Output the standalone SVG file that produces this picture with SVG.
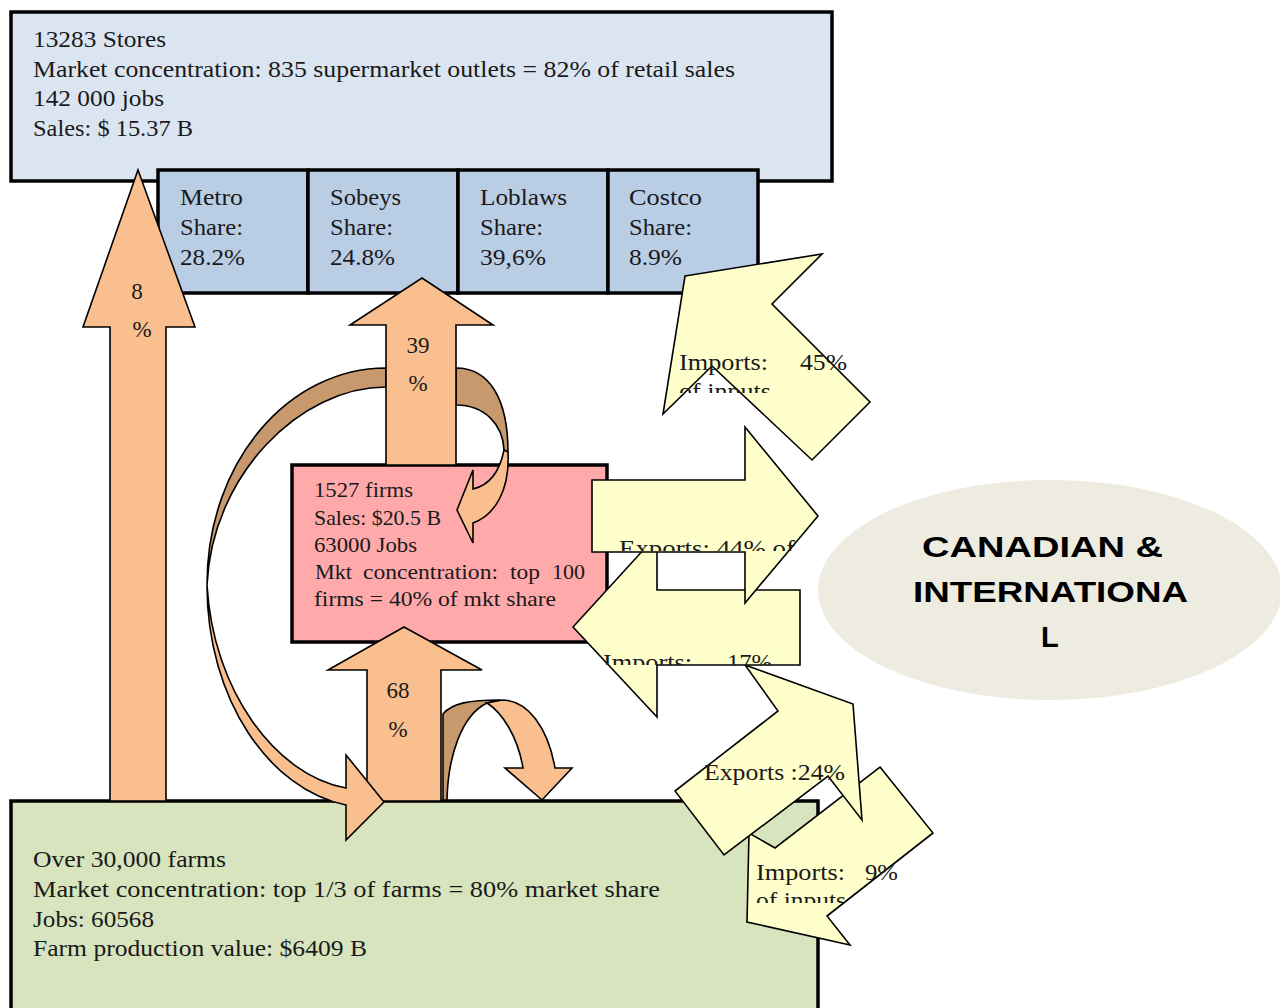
<svg xmlns="http://www.w3.org/2000/svg" width="1280" height="1008" viewBox="0 0 1280 1008">
<style>
.box{stroke:#000;stroke-width:3.5}
.t{font-family:"Liberation Serif","Times New Roman",serif;font-size:23px;fill:#1a1a1a}
.ts{font-family:"Liberation Serif","Times New Roman",serif;font-size:21px;fill:#1a1a1a}
.peach{fill:#f9bf8f;stroke:#000;stroke-width:1.6;stroke-linejoin:miter}
.dark{fill:#c9996e;stroke:#000;stroke-width:1.6}
.yel{fill:#ffffcc;stroke:#000;stroke-width:1.6;stroke-linejoin:miter}
.big{font-family:"Liberation Sans",Arial,sans-serif;font-weight:bold;font-size:29px;fill:#000}
</style>
<defs>
<clipPath id="c45"><rect x="600" y="330" width="300" height="63"/></clipPath>
<clipPath id="c44"><rect x="590" y="520" width="230" height="31"/></clipPath>
<clipPath id="c17"><rect x="570" y="630" width="240" height="35"/></clipPath>
<clipPath id="c9"><rect x="740" y="850" width="200" height="53"/></clipPath>
</defs>
<rect width="1280" height="1008" fill="#fff"/>

<g id="retail">
<rect class="box" x="11" y="12" width="821" height="169" fill="#dbe5f1"/>
<text class="t" x="33" y="47" textLength="133" lengthAdjust="spacingAndGlyphs">13283 Stores</text>
<text class="t" x="33" y="77" textLength="702" lengthAdjust="spacingAndGlyphs">Market concentration: 835 supermarket outlets = 82% of retail sales</text>
<text class="t" x="33" y="106" textLength="131" lengthAdjust="spacingAndGlyphs">142 000 jobs</text>
<text class="t" x="33" y="136" textLength="160" lengthAdjust="spacingAndGlyphs">Sales: $ 15.37 B</text>
</g>
<g id="metro">
<rect class="box" x="158" y="170" width="150" height="123" fill="#b9cde5"/>
<text class="t" x="180" y="205" textLength="63" lengthAdjust="spacingAndGlyphs">Metro</text>
<text class="t" x="180" y="235" textLength="63" lengthAdjust="spacingAndGlyphs">Share:</text>
<text class="t" x="180" y="265" textLength="65" lengthAdjust="spacingAndGlyphs">28.2%</text>
</g>
<g id="sobeys">
<rect class="box" x="308" y="170" width="150" height="123" fill="#b9cde5"/>
<text class="t" x="330" y="205" textLength="71" lengthAdjust="spacingAndGlyphs">Sobeys</text>
<text class="t" x="330" y="235" textLength="63" lengthAdjust="spacingAndGlyphs">Share:</text>
<text class="t" x="330" y="265" textLength="65" lengthAdjust="spacingAndGlyphs">24.8%</text>
</g>
<g id="loblaws">
<rect class="box" x="458" y="170" width="150" height="123" fill="#b9cde5"/>
<text class="t" x="480" y="205" textLength="87" lengthAdjust="spacingAndGlyphs">Loblaws</text>
<text class="t" x="480" y="235" textLength="63" lengthAdjust="spacingAndGlyphs">Share:</text>
<text class="t" x="480" y="265" textLength="66" lengthAdjust="spacingAndGlyphs">39,6%</text>
</g>
<g id="costco">
<rect class="box" x="608" y="170" width="150" height="123" fill="#b9cde5"/>
<text class="t" x="629" y="205" textLength="73" lengthAdjust="spacingAndGlyphs">Costco</text>
<text class="t" x="629" y="235" textLength="63" lengthAdjust="spacingAndGlyphs">Share:</text>
<text class="t" x="629" y="265" textLength="53" lengthAdjust="spacingAndGlyphs">8.9%</text>
</g>

<g id="farms">
<rect class="box" x="11" y="801" width="807" height="220" fill="#d7e4bd"/>
<text class="t" x="33" y="867" textLength="193" lengthAdjust="spacingAndGlyphs">Over 30,000 farms</text>
<text class="t" x="33" y="897" textLength="627" lengthAdjust="spacingAndGlyphs">Market concentration: top 1/3 of farms = 80% market share</text>
<text class="t" x="33" y="927" textLength="121" lengthAdjust="spacingAndGlyphs">Jobs: 60568</text>
<text class="t" x="33" y="956" textLength="334" lengthAdjust="spacingAndGlyphs">Farm production value: $6409 B</text>
</g>

<g id="processing">
<rect class="box" x="292" y="465" width="315" height="177" fill="#ffa9ab"/>
<text class="ts" x="314" y="497" textLength="99" lengthAdjust="spacingAndGlyphs">1527 firms</text>
<text class="ts" x="314" y="525" textLength="127" lengthAdjust="spacingAndGlyphs">Sales: $20.5 B</text>
<text class="ts" x="314" y="552" textLength="103" lengthAdjust="spacingAndGlyphs">63000 Jobs</text>
<text class="ts" y="579"><tspan x="315" textLength="37" lengthAdjust="spacingAndGlyphs">Mkt</tspan> <tspan x="363" textLength="135" lengthAdjust="spacingAndGlyphs">concentration:</tspan> <tspan x="510" textLength="30" lengthAdjust="spacingAndGlyphs">top</tspan> <tspan x="552" textLength="33" lengthAdjust="spacingAndGlyphs">100</tspan></text>
<text class="ts" x="314" y="606" textLength="242" lengthAdjust="spacingAndGlyphs">firms = 40% of mkt share</text>
</g>

<g id="international">
<ellipse cx="1050" cy="590" rx="232" ry="110" fill="#eeece1"/>
<text class="big" x="922" y="557" textLength="241" lengthAdjust="spacingAndGlyphs">CANADIAN &amp;</text>
<text class="big" x="913" y="602" textLength="275" lengthAdjust="spacingAndGlyphs">INTERNATIONA</text>
<text class="big" x="1041" y="647">L</text>
</g>

<g id="connectors">
<!-- 68% arrow farms -> processing -->
<polygon class="peach" points="404,627 482,670 441,670 441,801 367,801 367,670 328,670"/>
<text class="t" x="398" y="698" text-anchor="middle">68</text>
<text class="t" x="398" y="737" text-anchor="middle">%</text>
<!-- curved arrow processing -> farms (left) -->
<path class="dark" d="M386,368 C290,368 207,460 207,585 C212,475 300,387 386,387 Z"/>
<path class="peach" d="M207,585 C207,700 270,790 346,805 L346,840 L384,802 L346,755 L346,788 C275,775 213,690 207,585 Z"/>
<!-- small curved arrow farms -> farms -->
<path class="dark" d="M443,800 L443,714 C452,703 470,700 500,700 L487,703 C462,715 448,755 447,800 Z"/>
<path class="peach" d="M487,703 C503,713 518,738 523,768 L505,768 L542,800 L572,768 L555,768 C548,728 528,700 502,700 Z"/>
<!-- small curved arrow processing -> processing -->
<path class="dark" d="M456,368 C490,368 508,400 508,452 L504,450 C503,425 485,405 456,405 Z"/>
<path class="peach" d="M504,450 C500,470 490,485 473,489 L473,470 L457,510 L473,543 L473,523 C495,515 510,490 508,452 Z"/>
<!-- 39% arrow processing -> retail -->
<polygon class="peach" points="422,278 493,325 456,325 456,465 386,465 386,325 350,325"/>
<text class="t" x="418" y="353" text-anchor="middle">39</text>
<text class="t" x="418" y="391" text-anchor="middle">%</text>
<!-- 8% arrow farms -> retail -->
<polygon class="peach" points="138,170 195,327 166,327 166,801 110,801 110,327 83,327"/>
<text class="t" x="137" y="299" text-anchor="middle">8</text>
<text class="t" x="142" y="337" text-anchor="middle">%</text>

<!-- Imports 9% -->
<polygon class="yel" points="880,767 933,833 827,916 850,945 747,922 749,833 775,848"/>
<g clip-path="url(#c9)">
<text class="t" x="756" y="880" textLength="89" lengthAdjust="spacingAndGlyphs">Imports:</text>
<text class="t" x="865" y="880" textLength="33" lengthAdjust="spacingAndGlyphs">9%</text>
<text class="t" x="756" y="908" textLength="90" lengthAdjust="spacingAndGlyphs">of inputs</text>
</g>
<!-- Exports 24% -->
<polygon class="yel" points="745,665 853,704 862,820 828,776 724,855 675,791 778,711"/>
<text class="t" x="704" y="780" textLength="141" lengthAdjust="spacingAndGlyphs">Exports :24%</text>
<!-- Imports 17% -->
<polygon class="yel" points="573,627 657,535 657,590 800,590 800,665 657,665 657,717"/>
<g clip-path="url(#c17)">
<text class="t" x="603" y="670" textLength="89" lengthAdjust="spacingAndGlyphs">Imports:</text>
<text class="t" x="727" y="670" textLength="45" lengthAdjust="spacingAndGlyphs">17%</text>
</g>
<!-- Exports 44% -->
<polygon class="yel" points="592,480 745,480 745,427 818,516 745,603 745,552 592,552"/>
<g clip-path="url(#c44)">
<text class="t" x="619" y="556" textLength="176" lengthAdjust="spacingAndGlyphs">Exports: 44% of</text>
</g>
<!-- Imports 45% -->
<polygon class="yel" points="685,276 822,254 772,304 870,402 812,460 712,366 663,414"/>
<g clip-path="url(#c45)">
<text class="t" x="679" y="370" textLength="89" lengthAdjust="spacingAndGlyphs">Imports:</text>
<text class="t" x="800" y="370" textLength="47" lengthAdjust="spacingAndGlyphs">45%</text>
<text class="t" x="679" y="399" textLength="92" lengthAdjust="spacingAndGlyphs">of inputs</text>
</g>
</g>
</svg>
